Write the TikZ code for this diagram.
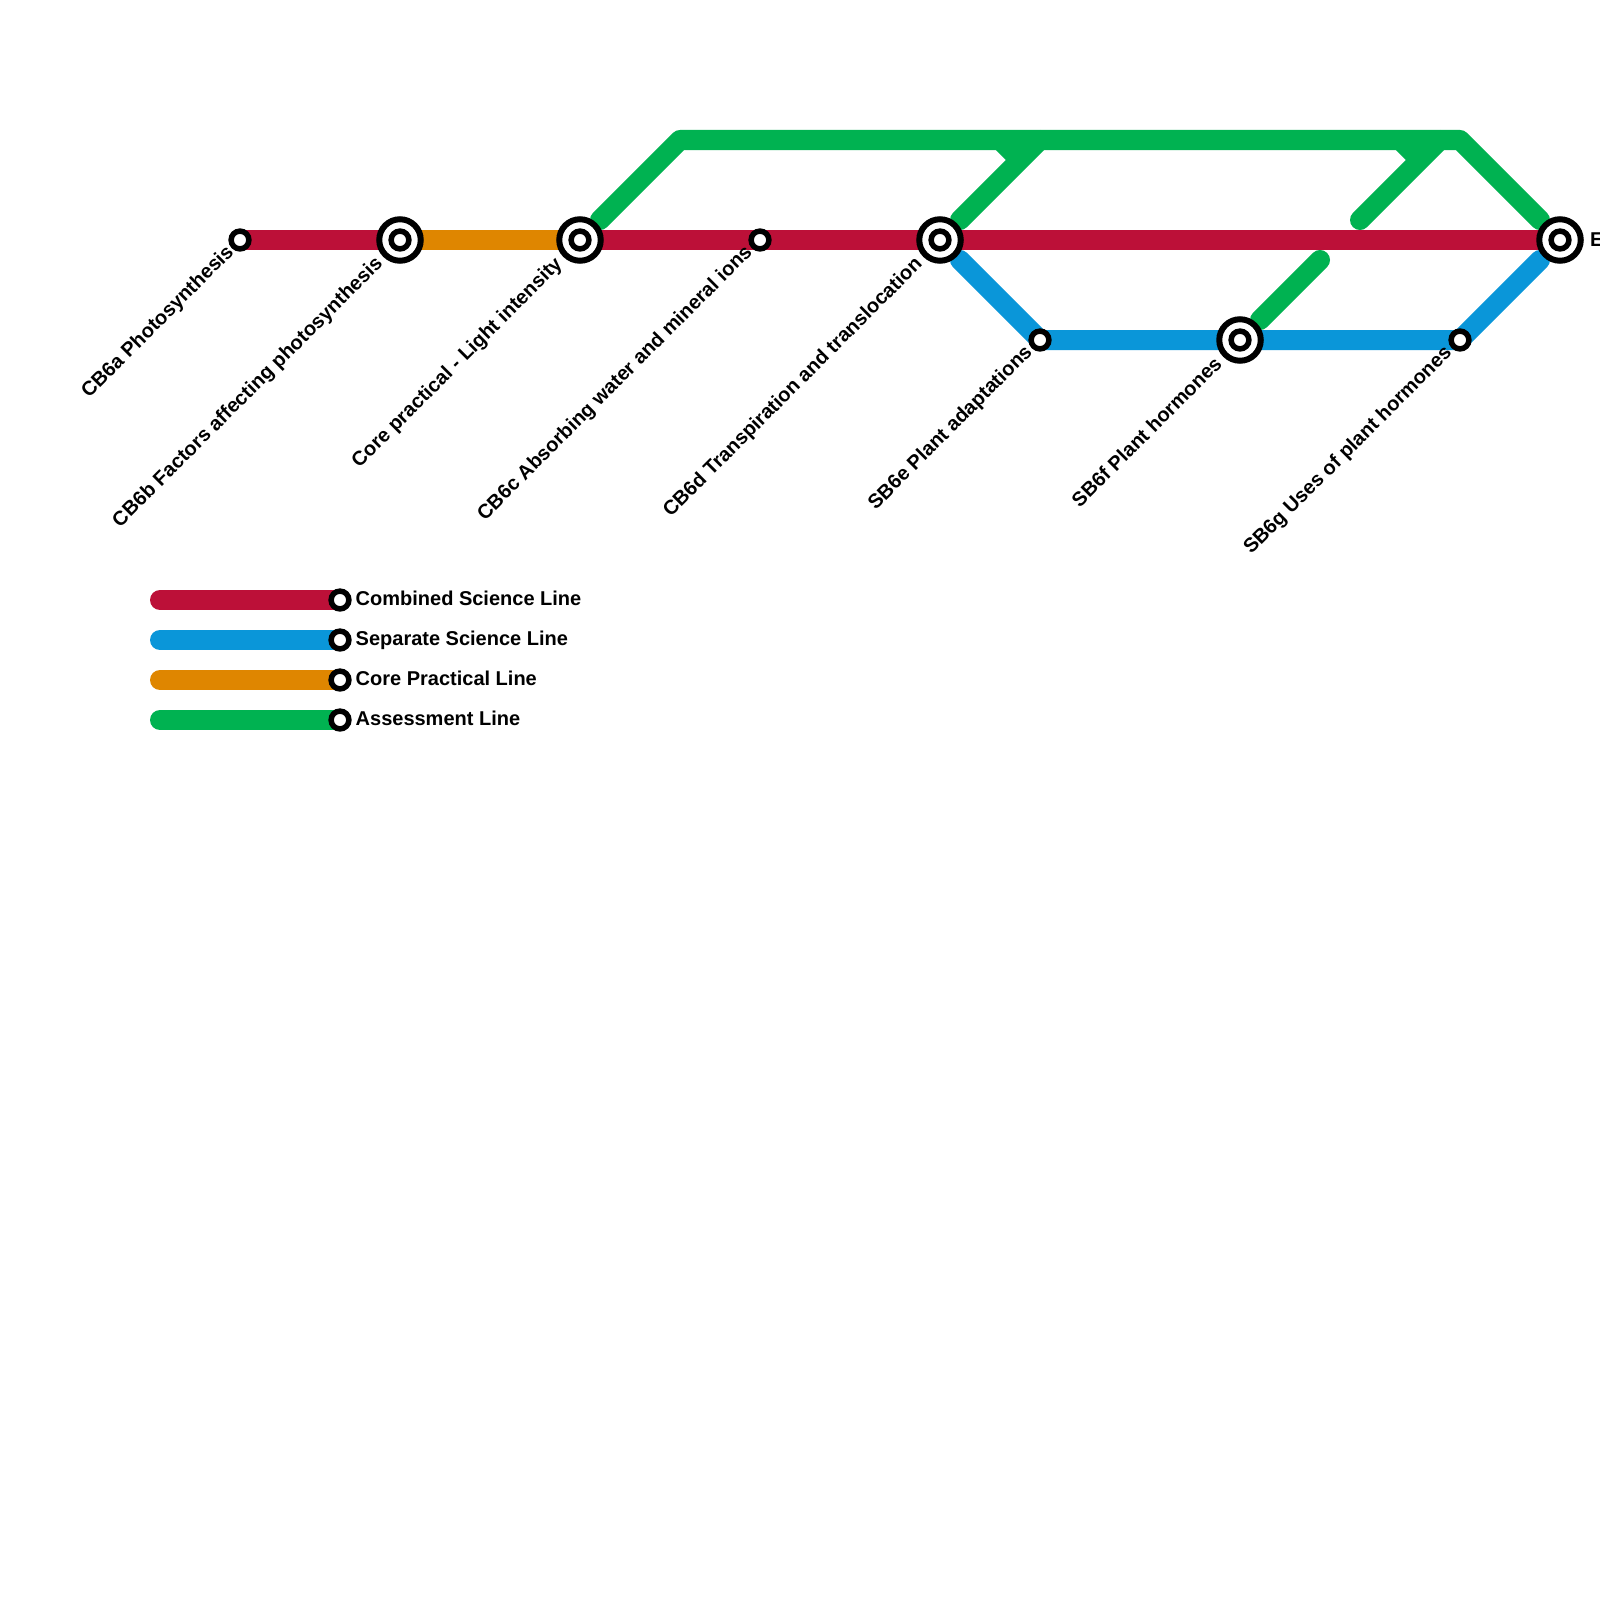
\documentclass[tikz,border=0pt]{standalone}
\usepackage{fontspec}
\setmainfont{Liberation Sans}
\usetikzlibrary{backgrounds}
\definecolor{cbred}{HTML}{BC1038}
\definecolor{sepblue}{HTML}{0A96D9}
\definecolor{coreorange}{HTML}{DF8600}
\definecolor{assessgreen}{HTML}{00B251}
\tikzset{
  metro/.style={line width=20pt,line cap=round,line join=round},
  smallstn/.style={circle,draw=black,fill=white,line width=5.5pt,minimum size=17.8pt,inner sep=0pt},
  bigstn/.style={circle,draw=black,fill=white,line width=6pt,minimum size=41.5pt,inner sep=0pt,
    path picture={\draw[line width=5.5pt] (path picture bounding box.center) circle (8.9pt);}},
  stnlabel/.style={font=\fontsize{20}{22}\selectfont\bfseries,rotate=45,anchor=east,inner sep=0pt,text=black},
  keylabel/.style={font=\fontsize{20}{22}\selectfont\bfseries,anchor=base west,inner sep=0pt,text=black},
}
\begin{document}
\begin{tikzpicture}[x=1pt,y=-1pt]
\useasboundingbox (0,0) rectangle (1600,1600);
% stations
\node[smallstn] (a) at (240,240) {};
\node[bigstn] (b) at (400,240) {};
\node[bigstn] (c) at (580,240) {};
\node[smallstn] (d) at (760,240) {};
\node[bigstn] (e) at (940,240) {};
\node[smallstn] (f) at (1040,340) {};
\node[bigstn] (g) at (1240,340) {};
\node[smallstn] (h) at (1460,340) {};
\node[bigstn] (z) at (1560,240) {};
% free points of the lines
\coordinate (c1) at (600,220);
\coordinate (t1) at (680,140);
\coordinate (t2) at (1460,140);
\coordinate (z1) at (1540,220);
\coordinate (e1) at (960,220);
\coordinate (e2) at (960,260);
\coordinate (z2) at (1540,260);
\coordinate (g1) at (1260,320);
\coordinate (m1) at (1000,140);
\coordinate (m2) at (1040,140);
\coordinate (m3) at (1400,140);
\coordinate (m4) at (1440,140);
\coordinate (j1) at (1020,160);
\coordinate (j2) at (1420,160);
\coordinate (s1) at (1360,220);
\coordinate (s2) at (1320,260);
% legend
\coordinate (k1) at (160,600);
\coordinate (k2) at (160,640);
\coordinate (k3) at (160,680);
\coordinate (k4) at (160,720);
\node[smallstn] (l1) at (340,600) {};
\node[smallstn] (l2) at (340,640) {};
\node[smallstn] (l3) at (340,680) {};
\node[smallstn] (l4) at (340,720) {};
\begin{scope}[on background layer]
  \fill[white] (0,0) rectangle (1600,1600);
  \draw[metro,assessgreen] (c1) -- (t1) -- (t2) -- (z1);
  \draw[metro,assessgreen] (e1) -- (j1) -- (m2);
  \draw[assessgreen,line width=20pt] (j1) -- (m1);
  \draw[metro,assessgreen] (s1) -- (j2) -- (m4);
  \draw[assessgreen,line width=20pt] (j2) -- (m3);
  \draw[metro,assessgreen] (g1) -- (s2);
  \draw[metro,sepblue] (e2) -- (f.center) -- (g.center) -- (h.center) -- (z2);
  \draw[metro,coreorange] (b.center) -- (c.center);
  \draw[metro,cbred] (a.center) -- (b.center);
  \draw[metro,cbred] (c.center) -- (d.center) -- (e.center) -- (z.center);
  \draw[metro,cbred] (k1) -- (l1.center);
  \draw[metro,sepblue] (k2) -- (l2.center);
  \draw[metro,coreorange] (k3) -- (l3.center);
  \draw[metro,assessgreen] (k4) -- (l4.center);
\end{scope}
% labels
\node[stnlabel] (la) at (231,249.5) {CB6a Photosynthesis};
\node[stnlabel] (lb) at (380,261) {CB6b Factors affecting photosynthesis};
\node[stnlabel] (lc) at (559.5,261.5) {Core practical - Light intensity};
\node[stnlabel] (ld) at (749.5,249.5) {CB6c Absorbing water and mineral ions};
\node[stnlabel] (le) at (919.5,261.5) {CB6d Transpiration and translocation};
\node[stnlabel] (lf) at (1029.5,349.5) {SB6e Plant adaptations};
\node[stnlabel] (lg) at (1218,360) {SB6f Plant hormones};
\node[stnlabel] (lh) at (1449,350) {SB6g Uses of plant hormones};
\node[keylabel] (lz) at (1590,246) {E};
\node[keylabel] (t1l) at (355.5,605) {Combined Science Line};
\node[keylabel] (t2l) at (355.5,645) {Separate Science Line};
\node[keylabel] (t3l) at (355.5,685) {Core Practical Line};
\node[keylabel] (t4l) at (355.5,725) {Assessment Line};
\end{tikzpicture}
\end{document}
